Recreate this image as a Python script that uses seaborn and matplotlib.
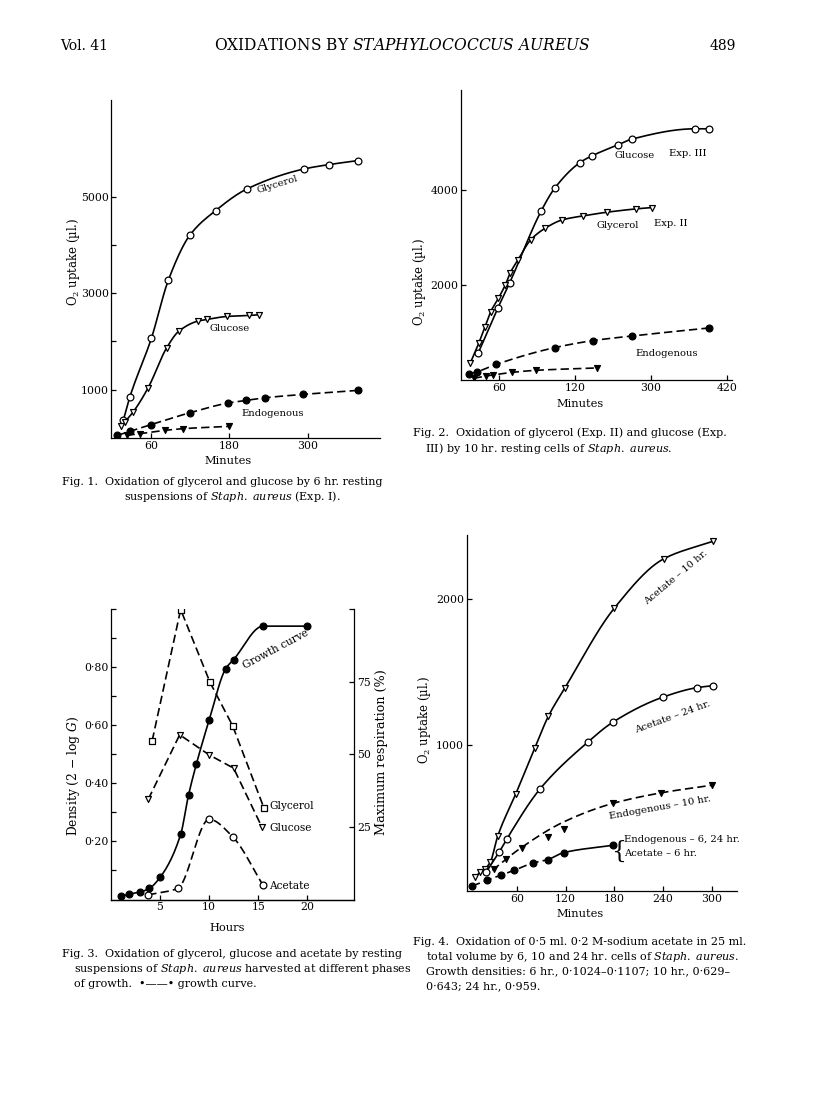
import numpy as np
import matplotlib
matplotlib.use("Agg")
import matplotlib.pyplot as plt
import seaborn as sns

# ---- data ----
# Fig. 1, Exp. I: minutes vs O2 uptake (ul.)
f1_gly_min = [18, 28, 61, 87, 120, 159, 207, 294, 332, 376]
f1_gly_ul = [366, 848, 2069, 3276, 4207, 4710, 5159, 5572, 5662, 5745]
f1_glu_min = [15, 20, 33, 56, 84, 103, 132, 146, 176, 210, 225]
f1_glu_ul = [250, 330, 538, 1041, 1862, 2214, 2421, 2455, 2517, 2538, 2552]
f1_endo_min = [9, 28, 60, 120, 178, 206, 235, 293, 376]
f1_endo_ul = [55, 138, 276, 524, 724, 779, 834, 903, 986]
f1_endo2_min = [23, 44, 82, 109, 179]
f1_endo2_ul = [55, 90, 159, 193, 241]

# Fig. 2, Exp. II / III
f2_glu_min = [27, 58, 77, 127, 148, 188, 207, 248, 270, 370, 392]
f2_glu_ul = [561, 1509, 2049, 3565, 4035, 4575, 4716, 4947, 5067, 5284, 5284]
f2_gly_min = [15, 28, 38, 47, 59, 70, 78, 90, 110, 133, 160, 193, 231, 277, 302]
f2_gly_ul = [365, 772, 1123, 1439, 1719, 2000, 2260, 2526, 2947, 3193, 3368,
             3453, 3530, 3600, 3628]
f2_endo_min = [13, 26, 56, 148, 208, 270, 392]
f2_endo_ul = [126, 175, 330, 681, 828, 926, 1095]
f2_endo2_min = [20, 39, 51, 81, 119, 214]
f2_endo2_ul = [35, 84, 105, 161, 204, 253]
f2_tick_pos = [60, 180, 300, 420]
f2_tick_lab = ["60", "120", "300", "420"]  # as printed

# Fig. 3, hours
f3_growth_h = [1.0, 1.8, 3.0, 3.9, 5.0, 7.1, 7.9, 8.7, 10.0, 11.7, 12.5, 15.5, 20.0]
f3_growth_d = [0.011, 0.018, 0.026, 0.038, 0.076, 0.224, 0.359, 0.466, 0.617,
               0.795, 0.826, 0.941, 0.941]
f3_gly_h = [4.2, 7.1, 10.1, 12.4, 15.6]
f3_gly_pc = [54.7, 99.8, 74.7, 59.8, 31.4]
f3_glu_h = [3.8, 7.0, 10.0, 12.5, 15.4]
f3_glu_pc = [34.5, 56.7, 49.8, 45.2, 24.8]
f3_ace_h = [3.8, 6.8, 10.0, 12.4, 15.5]
f3_ace_pc = [1.6, 3.8, 27.6, 21.6, 4.9]

# Fig. 4, acetate
f4_a10_min = [9, 15, 21, 27.5, 36.5, 59, 82, 99, 119, 180, 241, 301]
f4_a10_ul = [96, 130, 153, 199, 375, 668, 977, 1199, 1389, 1938, 2277, 2396]
f4_a24_min = [22.5, 38.5, 48, 89, 148, 178, 240, 282, 301]
f4_a24_ul = [130, 268, 359, 702, 1023, 1156, 1329, 1394, 1407]
f4_e10_min = [32, 47, 66, 99, 118, 178, 238, 300]
f4_e10_ul = [153, 222, 295, 371, 428, 600, 673, 725]
f4_e10_fit_min = [30, 64, 118, 178, 240, 300]   # drawn curve
f4_e10_fit_ul = [142, 291, 474, 600, 675, 725]
f4_e6_min = [5, 23, 40, 57, 80, 99, 118, 178]
f4_e6_ul = [34, 73, 108, 142, 192, 215, 263, 313]

W, H = 816, 1113

sns.set_theme(style="ticks")
plt.rcParams["font.family"] = ["DejaVu Serif"]
plt.rcParams["mathtext.fontset"] = "custom"
plt.rcParams["mathtext.rm"] = "DejaVu Serif"
plt.rcParams["mathtext.it"] = "DejaVu Serif:italic"
plt.rcParams["axes.linewidth"] = 0.9
plt.rcParams["axes.edgecolor"] = "black"
plt.rcParams["xtick.direction"] = "in"
plt.rcParams["ytick.direction"] = "in"

DASH = (0, (5, 2.5))
CAP = 8.0    # caption size
LAB = 7.2    # curve labels


def smooth(x, y, n=200):
    # monotone cubic through the points, only for drawing the hand-drawn curves
    x = np.asarray(x, float)
    y = np.asarray(y, float)
    h = np.diff(x)
    d = np.diff(y) / h
    m = np.zeros_like(y)
    m[0], m[-1] = d[0], d[-1]
    for k in range(1, len(x) - 1):
        if d[k - 1] * d[k] <= 0:
            m[k] = 0
        else:
            w1 = 2 * h[k] + h[k - 1]
            w2 = h[k] + 2 * h[k - 1]
            m[k] = (w1 + w2) / (w1 / d[k - 1] + w2 / d[k])
    xs = np.linspace(x[0], x[-1], n)
    i = np.clip(np.searchsorted(x, xs) - 1, 0, len(x) - 2)
    t = (xs - x[i]) / h[i]
    ys = ((2 * t**3 - 3 * t**2 + 1) * y[i] + (t**3 - 2 * t**2 + t) * h[i] * m[i]
          + (-2 * t**3 + 3 * t**2) * y[i + 1] + (t**3 - t**2) * h[i] * m[i + 1])
    return xs, ys


def curve(ax, x, y, ls="-", bend=True):
    if bend:
        x, y = smooth(x, y)
    sns.lineplot(x=x, y=y, ax=ax, color="black", lw=1.2, linestyle=ls,
                 estimator=None, sort=False)


def points(ax, x, y, marker="o", filled=False, s=24):
    sns.scatterplot(x=x, y=y, ax=ax, marker=marker, s=s,
                    color="black" if filled else "white",
                    edgecolor="black", linewidth=0.9, zorder=4)


def axes_px(left, top, right, bottom):
    return fig.add_axes([left / W, 1 - bottom / H, (right - left) / W, (bottom - top) / H])


def txt(x, y, s, size=LAB, **kw):
    fig.text(x / W, 1 - y / H, s, fontsize=size, color="black", **kw)


def style(ax):
    ax.set_facecolor("white")
    sns.despine(ax=ax)
    ax.tick_params(length=3.5, width=0.9, labelsize=7.8, colors="black", pad=2)
    ax.set_xlabel("")
    ax.set_ylabel("")


fig = plt.figure(figsize=(W / 100, H / 100), dpi=100)
fig.patch.set_facecolor("white")

# header
txt(60, 46, "Vol. 41", size=10, va="center")
txt(402, 46, r"OXIDATIONS BY $\mathit{STAPHYLOCOCCUS\ AUREUS}$", size=11.2,
    va="center", ha="center")
txt(736, 46, "489", size=10, va="center", ha="right")

# ---- Fig. 1 ----
ax1 = axes_px(111.5, 100, 380, 438)
curve(ax1, f1_gly_min, f1_gly_ul)
points(ax1, f1_gly_min, f1_gly_ul, "o")
curve(ax1, f1_glu_min, f1_glu_ul)
points(ax1, f1_glu_min, f1_glu_ul, "v", s=18)
curve(ax1, f1_endo_min, f1_endo_ul, DASH)
points(ax1, f1_endo_min, f1_endo_ul, "o", True)
curve(ax1, f1_endo2_min, f1_endo2_ul, DASH)
points(ax1, f1_endo2_min, f1_endo2_ul, "v", True, s=18)
ax1.set_xlim(0, 410)
ax1.set_ylim(0, 7000)
ax1.set_xticks([60, 180, 300])
ax1.set_yticks([1000, 2000, 3000, 4000, 5000], ["1000", "", "3000", "", "5000"])
style(ax1)
txt(277, 185, "Glycerol", rotation=17, ha="center", va="center")
txt(230, 329, "Glucose", ha="center", va="center")
txt(273, 414, "Endogenous", ha="center", va="center")
txt(74, 262, "O$_2$ uptake (µl.)", size=8.4, rotation=90, ha="center", va="center")
txt(228, 461, "Minutes", ha="center", va="center", size=8.2)
txt(62, 482, "Fig. 1.  Oxidation of glycerol and glucose by 6 hr. resting",
    size=CAP, va="center")
txt(232, 497, r"suspensions of $\mathit{Staph.\ aureus}$ (Exp. I).", size=CAP,
    ha="center", va="center")

# ---- Fig. 2 ----
ax2 = axes_px(461, 90, 732, 380)
curve(ax2, f2_glu_min, f2_glu_ul)
points(ax2, f2_glu_min, f2_glu_ul, "o")
curve(ax2, f2_gly_min, f2_gly_ul)
points(ax2, f2_gly_min, f2_gly_ul, "v", s=18)
curve(ax2, f2_endo_min, f2_endo_ul, DASH)
points(ax2, f2_endo_min, f2_endo_ul, "o", True)
curve(ax2, f2_endo2_min, f2_endo2_ul, DASH)
points(ax2, f2_endo2_min, f2_endo2_ul, "v", True, s=18)
ax2.set_xlim(0, 428)
ax2.set_ylim(0, 6100)
ax2.set_xticks(f2_tick_pos, f2_tick_lab)
ax2.set_yticks([2000, 4000])
style(ax2)
txt(635, 156, "Glucose", ha="center", va="center")
txt(688, 153, "Exp. III", ha="center", va="center")
txt(618, 226, "Glycerol", ha="center", va="center")
txt(671, 224, "Exp. II", ha="center", va="center")
txt(667, 353, "Endogenous", ha="center", va="center")
txt(420, 282, "O$_2$ uptake (µl.)", size=8.4, rotation=90, ha="center", va="center")
txt(580, 404, "Minutes", ha="center", va="center", size=8.2)
txt(413, 433, "Fig. 2.  Oxidation of glycerol (Exp. II) and glucose (Exp.",
    size=CAP, va="center")
txt(425, 449, r"III) by 10 hr. resting cells of $\mathit{Staph.\ aureus}$.",
    size=CAP, va="center")

# ---- Fig. 3 ----
ax3 = axes_px(111, 609, 354.3, 899.5)
curve(ax3, f3_growth_h, f3_growth_d)
points(ax3, f3_growth_h, f3_growth_d, "o", True)
ax3.set_xlim(0, 24.8)
ax3.set_ylim(0, 1.0)
ax3.set_xticks([5, 10, 15, 20])
yt = np.round(np.arange(0.1, 1.01, 0.1), 1)
ax3.set_yticks(yt, [f"{v:.2f}".replace(".", "·") if round(v * 10) % 2 == 0 and v < 0.95 else ""
                    for v in yt])
style(ax3)
ax3r = ax3.twinx()
curve(ax3r, f3_gly_h, f3_gly_pc, DASH, bend=False)
points(ax3r, f3_gly_h, f3_gly_pc, "s", s=18)
curve(ax3r, f3_glu_h, f3_glu_pc, DASH, bend=False)
points(ax3r, f3_glu_h, f3_glu_pc, "v", s=18)
curve(ax3r, f3_ace_h, f3_ace_pc, DASH)
points(ax3r, f3_ace_h, f3_ace_pc, "o")
ax3r.set_ylim(0, 100)
ax3r.set_yticks([25, 50, 75, 100], ["25", "50", "75", ""])
ax3r.set_ylabel("")
for side in ["top", "left"]:
    ax3r.spines[side].set_visible(False)
ax3r.tick_params(length=3.5, width=0.9, labelsize=7.8, colors="black", pad=2)
txt(276, 649, "Growth curve", size=7.6, rotation=28, ha="center", va="center")
txt(269, 806, "Glycerol", size=7.6, va="center")
txt(269, 828, "Glucose", size=7.6, va="center")
txt(269, 886, "Acetate", size=7.6, va="center")
txt(73, 776, r"Density (2 − log $\mathit{G}$)", size=8.8, rotation=90,
    ha="center", va="center")
txt(382, 752, "Maximum respiration (%)", size=9.2, rotation=90, ha="center", va="center")
txt(227, 928, "Hours", ha="center", va="center", size=8.2)
txt(62, 954, "Fig. 3.  Oxidation of glycerol, glucose and acetate by resting",
    size=CAP, va="center")
txt(74, 969, r"suspensions of $\mathit{Staph.\ aureus}$ harvested at different phases",
    size=CAP, va="center")
txt(74, 984, "of growth.  •——• growth curve.", size=CAP, va="center")

# ---- Fig. 4 ----
ax4 = axes_px(466.7, 535, 736.7, 891)
curve(ax4, f4_a10_min, f4_a10_ul)
points(ax4, f4_a10_min, f4_a10_ul, "v", s=18)
curve(ax4, f4_a24_min, f4_a24_ul)
points(ax4, f4_a24_min, f4_a24_ul, "o")
curve(ax4, f4_e10_fit_min, f4_e10_fit_ul, DASH)
points(ax4, f4_e10_min, f4_e10_ul, "v", True, s=18)
curve(ax4, f4_e6_min[:6], f4_e6_ul[:6], DASH)
curve(ax4, f4_e6_min[5:], f4_e6_ul[5:])
points(ax4, f4_e6_min, f4_e6_ul, "o", True)
ax4.set_xlim(-1.6, 330.7)
ax4.set_ylim(0, 2440)
ax4.set_xticks([60, 120, 180, 240, 300])
ax4.set_yticks([1000, 2000])
style(ax4)
txt(676, 578, "Acetate – 10 hr.", rotation=40, ha="center", va="center")
txt(673, 717, "Acetate – 24 hr.", rotation=20, ha="center", va="center")
txt(660, 808, "Endogenous – 10 hr.", rotation=10, ha="center", va="center")
txt(619, 851, "{", size=17, ha="center", va="center")
txt(624, 840, "Endogenous – 6, 24 hr.", va="center")
txt(624, 854, "Acetate – 6 hr.", va="center")
txt(424, 720, "O$_2$ uptake (µl.)", size=8.4, rotation=90, ha="center", va="center")
txt(580, 914, "Minutes", ha="center", va="center", size=8.2)
txt(413, 942, "Fig. 4.  Oxidation of 0·5 ml. 0·2 M-sodium acetate in 25 ml.",
    size=CAP, va="center")
txt(426, 957, r"total volume by 6, 10 and 24 hr. cells of $\mathit{Staph.\ aureus}$.",
    size=CAP, va="center")
txt(426, 971, "Growth densities: 6 hr., 0·1024–0·1107; 10 hr., 0·629–",
    size=CAP, va="center")
txt(426, 986, "0·643; 24 hr., 0·959.", size=CAP, va="center")

fig.savefig("out.png", dpi=100, facecolor="white")
